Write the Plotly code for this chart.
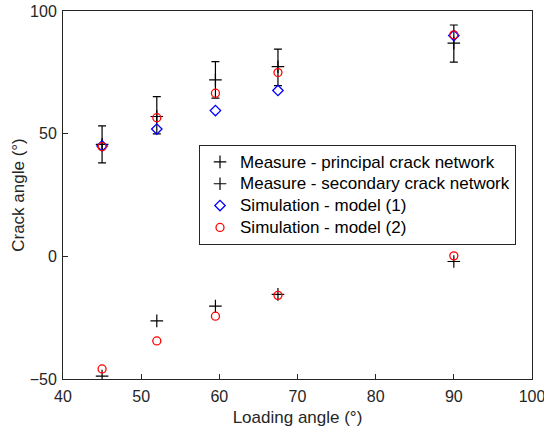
import plotly.graph_objects as go

loading = [45, 52, 59.5, 67.5, 90]
principal = [45.6, 57.0, 71.9, 77.3, 86.9]
principal_err_plus = [7.6, 8.1, 7.5, 7.2, 7.4]
principal_err_minus = [7.5, 7.1, 7.4, 7.7, 7.7]
secondary = [-48.8, -26.3, -20.3, -15.5, -2.1]
model1 = [45.0, 51.9, 59.4, 67.6, 90.0]
model2_top = [44.7, 56.5, 66.5, 74.9, 90.3]
model2_bottom = [-45.9, -34.5, -24.4, -15.9, 0.2]
x_ticks = [40, 50, 60, 70, 80, 90, 100]
y_ticks = [-50, 0, 50, 100]
names = ["Measure - principal crack network", "Measure - secondary crack network",
         "Simulation - model (1)", "Simulation - model (2)"]

font = "Liberation Sans, Arial, Helvetica, sans-serif"


def lg(s):
    return '<span style="font-size:17px">' + s + '</span>'


fig = go.Figure()
fig.add_trace(go.Scatter(
    x=loading, y=principal, mode="markers",
    name=lg(names[0]),
    marker=dict(symbol="cross-thin", size=9, line=dict(color="black", width=1.2), color="black"),
    error_y=dict(type="data", array=principal_err_plus, arrayminus=principal_err_minus,
                 color="black", thickness=1.2, width=4),
))
fig.add_trace(go.Scatter(
    x=loading, y=secondary, mode="markers",
    name=lg(names[1]),
    marker=dict(symbol="cross-thin", size=9, line=dict(color="black", width=1.2), color="black"),
))
fig.add_trace(go.Scatter(
    x=loading, y=model1, mode="markers",
    name=lg(names[2]),
    marker=dict(symbol="diamond-open", size=8, color="blue", line=dict(color="blue", width=1.3)),
))
fig.add_trace(go.Scatter(
    x=loading + loading, y=model2_top + model2_bottom, mode="markers",
    name=lg(names[3]),
    marker=dict(symbol="circle-open", size=8, color="red", line=dict(color="red", width=1.3)),
))

axis_common = dict(
    showgrid=False, zeroline=False, showline=True, linecolor="#262626", linewidth=1,
    mirror=True, ticks="inside", ticklen=5, tickcolor="#262626", automargin=False,
    ticklabeloverflow="allow",
    tickfont=dict(family=font, size=16, color="#262626"),
)

fig.update_layout(
    template="none",
    width=544, height=435,
    margin=dict(l=63, r=12, t=11, b=56, autoexpand=False),
    paper_bgcolor="white", plot_bgcolor="white",
    font=dict(family=font, size=16, color="#262626"),
    showlegend=True,
    legend=dict(
        x=0.29, y=0.636, xanchor="left", yanchor="top",
        bgcolor="white", bordercolor="#262626", borderwidth=1,
        font=dict(family=font, size=14.5, color="#000000"),
        itemwidth=30, tracegroupgap=0,
    ),
    xaxis=dict(range=[40, 100], tickvals=x_ticks, ticklabelstandoff=3,
               title=dict(text="Loading angle (°)", font=dict(family=font, size=17, color="#262626"), standoff=6),
               **axis_common),
    yaxis=dict(range=[-50, 100], tickvals=y_ticks, ticklabelstandoff=2,
               title=dict(text="Crack angle (°)", font=dict(family=font, size=17, color="#262626"), standoff=0),
               **axis_common),
)

fig.write_html("out.html", config={"displayModeBar": False},
               post_script="document.body.style.margin='0';")
